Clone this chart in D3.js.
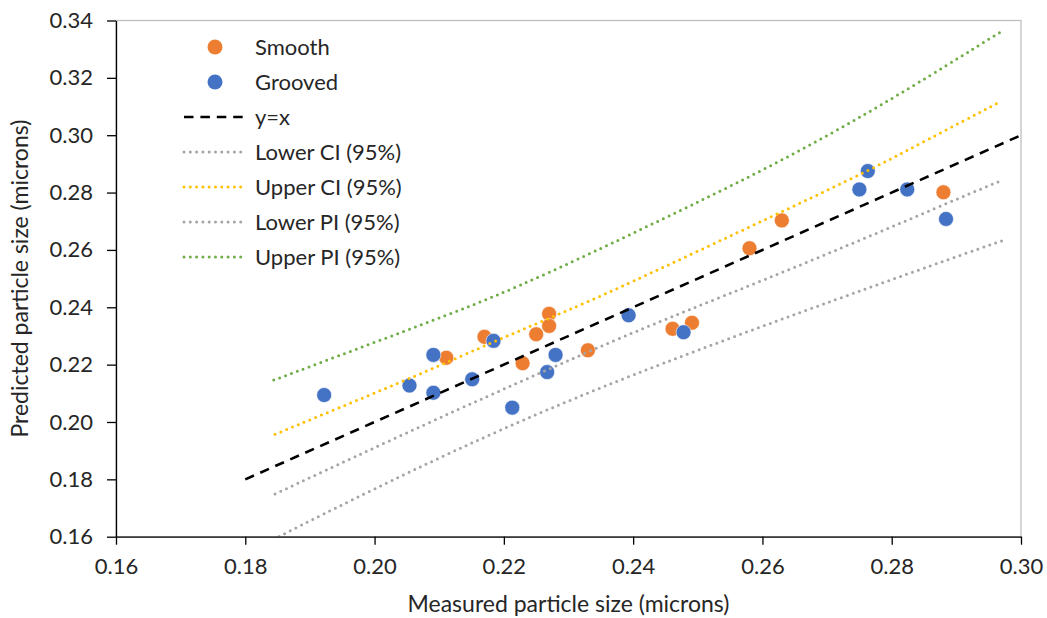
<!DOCTYPE html>
<html>
<head>
<meta charset="utf-8">
<script src="https://cdn.jsdelivr.net/npm/d3@7"></script>
<style>
  html, body { margin: 0; padding: 0; background: #fff; }
  svg { display: block; }
  text { font-family: Lato, "Open Sans", sans-serif; fill: #262626; }
</style>
</head>
<body>
<svg id="chart" width="1047" height="618"></svg>
<script>
// ---- data ----
const xTicks = [0.16, 0.18, 0.20, 0.22, 0.24, 0.26, 0.28, 0.30];
const yTicks = [0.16, 0.18, 0.20, 0.22, 0.24, 0.26, 0.28, 0.30, 0.32, 0.34];

const smoothX = [0.2111, 0.2170, 0.2229, 0.2250, 0.2270, 0.2270, 0.2330, 0.2461, 0.2491, 0.2580, 0.2630, 0.2880];
const smoothY = [0.2224, 0.2297, 0.2205, 0.2306, 0.2377, 0.2335, 0.2250, 0.2325, 0.2346, 0.2606, 0.2703, 0.2801];

const groovedX = [0.1922, 0.2054, 0.2091, 0.2091, 0.2151, 0.2184, 0.2213, 0.2267, 0.2280, 0.2393, 0.2478, 0.2750, 0.2763, 0.2824, 0.2884];
const groovedY = [0.2094, 0.2127, 0.2234, 0.2102, 0.2149, 0.2283, 0.2050, 0.2174, 0.2234, 0.2372, 0.2313, 0.2811, 0.2875, 0.2811, 0.2708];

const identityX = [0.18, 0.30];
const identityY = [0.18, 0.30];

const lowerCIX = [0.1846, 0.2086, 0.2266, 0.2411, 0.2668, 0.2921, 0.2970];
const lowerCIY = [0.1749, 0.2001, 0.2181, 0.2325, 0.2553, 0.2797, 0.2842];

const upperCIX = [0.1846, 0.2086, 0.2184, 0.2271, 0.2377, 0.2630, 0.2767, 0.2854, 0.2970];
const upperCIY = [0.1957, 0.2181, 0.2280, 0.2362, 0.2465, 0.2733, 0.2879, 0.2983, 0.3119];

const lowerPIX = [0.1844, 0.1861, 0.2120, 0.2411, 0.2921, 0.2970];
const lowerPIY = [0.1590, 0.1612, 0.1902, 0.2184, 0.2594, 0.2631];

const upperPIX = [0.1844, 0.2086, 0.2213, 0.2411, 0.2699, 0.2969];
const upperPIY = [0.2146, 0.2350, 0.2460, 0.2669, 0.2983, 0.3361];

const legendLabels = ["Smooth", "Grooved", "y=x", "Lower CI (95%)", "Upper CI (95%)", "Lower PI (95%)", "Upper PI (95%)"];

// ---- layout ----
const svg = d3.select("#chart");
const pLeft = 116, pRight = 1021, pTop = 20.5, pBottom = 536.7;

const x = d3.scaleLinear().domain([0.16, 0.30]).range([pLeft, pRight]);
const y = d3.scaleLinear().domain([0.16, 0.34]).range([pBottom, pTop]);

const colors = {
  smooth: "#ED7D31", grooved: "#4472C4", identity: "#000000",
  lowerCI: "#A5A5A5", upperCI: "#FFC000", lowerPI: "#A5A5A5", upperPI: "#70AD47"
};

svg.append("defs").append("clipPath").attr("id", "plotClip")
  .append("rect").attr("x", pLeft).attr("y", pTop).attr("width", pRight - pLeft).attr("height", pBottom - pTop);

// plot area border
svg.append("rect")
  .attr("x", pLeft).attr("y", pTop).attr("width", pRight - pLeft).attr("height", pBottom - pTop)
  .attr("fill", "none").attr("stroke", "#BFBFBF").attr("stroke-width", 1.3);

// markers
const zip = (xs, ys) => xs.map((v, i) => [v, ys[i]]);
const plot = svg.append("g").attr("clip-path", "url(#plotClip)");

function drawPoints(xs, ys, color) {
  plot.append("g").selectAll("circle").data(zip(xs, ys)).join("circle")
    .attr("cx", d => x(d[0])).attr("cy", d => y(d[1])).attr("r", 7.5)
    .attr("fill", color).attr("stroke", "#ffffff").attr("stroke-opacity", 0.6).attr("stroke-width", 1);
}
drawPoints(smoothX, smoothY, colors.smooth);
drawPoints(groovedX, groovedY, colors.grooved);

// lines
const line = d3.line().x(d => x(d[0])).y(d => y(d[1])).curve(d3.curveBasis);
const dotted = "0 6.3";
function drawLine(xs, ys, color, dash, width) {
  plot.append("path").datum(zip(xs, ys))
    .attr("d", line).attr("fill", "none").attr("stroke", color)
    .attr("stroke-width", width).attr("stroke-dasharray", dash)
    .attr("stroke-linecap", dash === dotted ? "round" : "butt");
}
drawLine(identityX, identityY, colors.identity, "9.5 6.9", 2.6);
drawLine(lowerCIX, lowerCIY, colors.lowerCI, dotted, 3);
drawLine(upperCIX, upperCIY, colors.upperCI, dotted, 3);
drawLine(lowerPIX, lowerPIY, colors.lowerPI, dotted, 3);
drawLine(upperPIX, upperPIY, colors.upperPI, dotted, 3);

// axes
const xAxis = d3.axisBottom(x).tickValues(xTicks).tickFormat(d3.format(".2f")).tickSize(8).tickSizeOuter(0).tickPadding(14);
const yAxis = d3.axisLeft(y).tickValues(yTicks).tickFormat(d3.format(".2f")).tickSize(9).tickSizeOuter(0).tickPadding(14);

const gx = svg.append("g").attr("transform", `translate(0,${pBottom})`).call(xAxis);
const gy = svg.append("g").attr("transform", `translate(${pLeft},0)`).call(yAxis);
[gx, gy].forEach(g => {
  g.select(".domain").attr("stroke", "#000").attr("stroke-width", 1.3);
  g.selectAll(".tick line").attr("stroke", "#000").attr("stroke-width", 1.3);
  g.selectAll(".tick text").attr("font-size", 22).attr("fill", "#262626")
    .style("font-family", "Lato, 'Open Sans', sans-serif");
});

// axis titles
svg.append("text").attr("x", (pLeft + pRight) / 2).attr("y", 612)
  .attr("text-anchor", "middle").attr("font-size", 23).text("Measured particle size (microns)");
svg.append("text").attr("transform", `translate(28,${(pTop + pBottom) / 2}) rotate(-90)`)
  .attr("text-anchor", "middle").attr("font-size", 23).text("Predicted particle size (microns)");

// legend
const legend = svg.append("g");
const legendY0 = 47, legendStep = 35;
const legendColors = [colors.smooth, colors.grooved, colors.identity, colors.lowerCI, colors.upperCI, colors.lowerPI, colors.upperPI];
legendLabels.forEach((lab, i) => {
  const ly = legendY0 + i * legendStep;
  if (i < 2) {
    legend.append("circle").attr("cx", 215).attr("cy", ly).attr("r", 7.5).attr("fill", legendColors[i]);
  } else {
    legend.append("line").attr("x1", 184).attr("x2", 243).attr("y1", ly).attr("y2", ly)
      .attr("stroke", legendColors[i]).attr("stroke-width", i === 2 ? 2.6 : 3)
      .attr("stroke-dasharray", i === 2 ? "9.5 6.9" : dotted)
      .attr("stroke-linecap", i === 2 ? "butt" : "round");
  }
  legend.append("text").attr("x", 255).attr("y", ly).attr("dy", "0.35em")
    .attr("font-size", 22).text(lab);
});
</script>
</body>
</html>
